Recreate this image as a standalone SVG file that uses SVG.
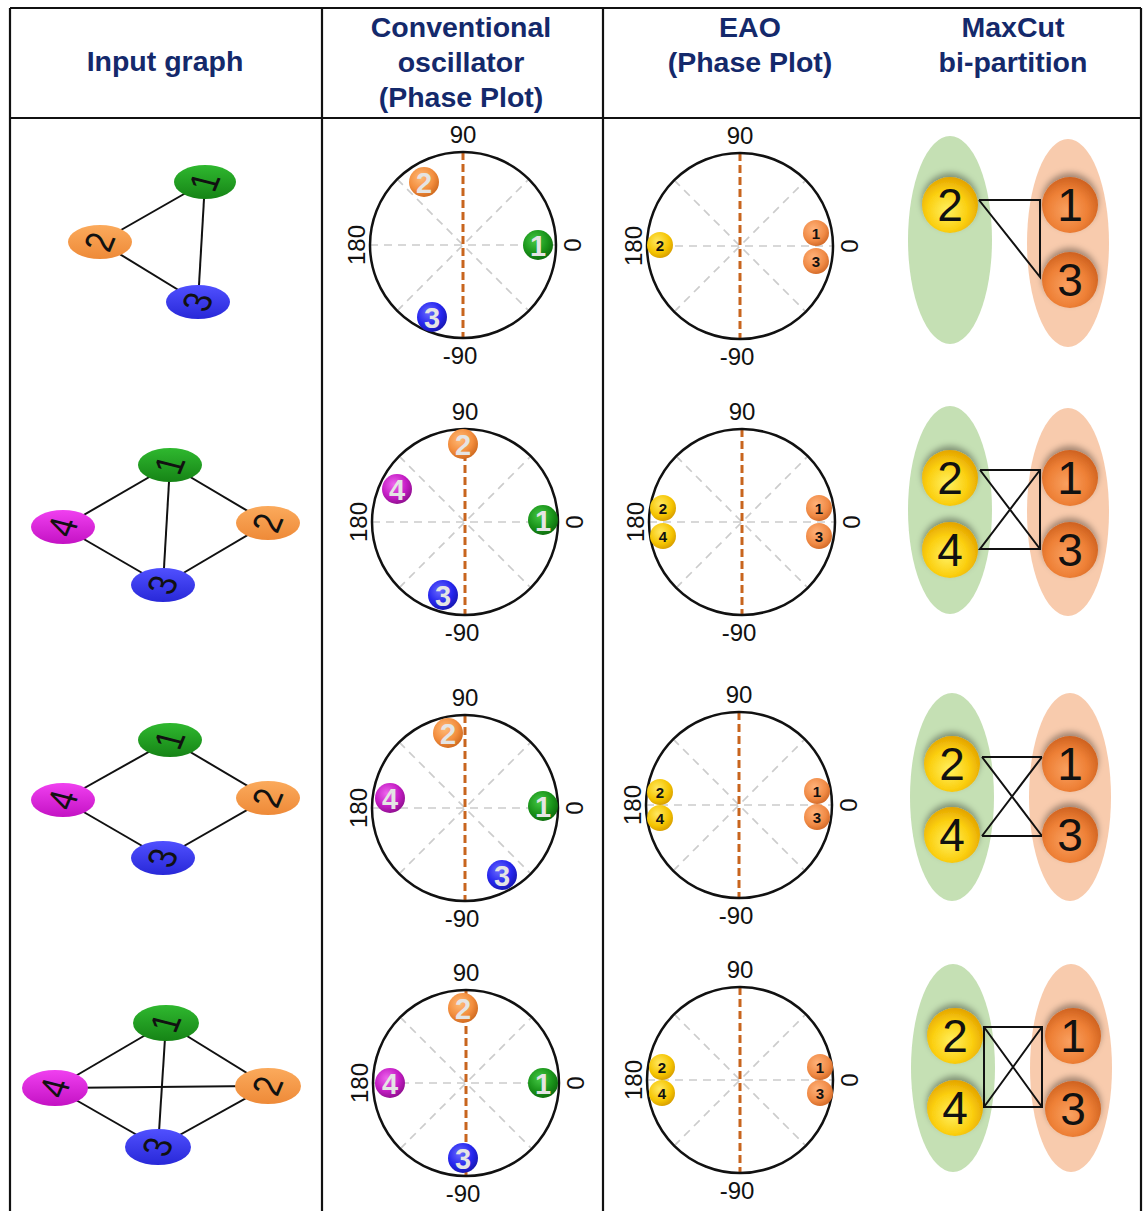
<svg xmlns="http://www.w3.org/2000/svg" xmlns:xlink="http://www.w3.org/1999/xlink" width="1144" height="1211" viewBox="0 0 1144 1211">
<style>
.hdr{font-family:"Liberation Sans",Arial,sans-serif;font-weight:bold;font-size:28.5px;fill:#14296b;text-anchor:middle}
.ax{font-family:"Liberation Sans",Arial,sans-serif;font-size:24px;fill:#111;text-anchor:middle}
.tbl{stroke:#111;stroke-width:2.2;fill:none}
.edge{stroke:#111;stroke-width:2;fill:none}
.cut{stroke:#111;stroke-width:2;fill:none}
.grid{stroke:#cccccc;stroke-width:1.7;stroke-dasharray:8 6;fill:none}
.vdash{stroke:#c8651e;stroke-width:3;stroke-dasharray:8 4;fill:none}
.ring{stroke:#111;stroke-width:2.5;fill:none}
.gd{font-family:"Liberation Sans",Arial,sans-serif;font-size:40px;fill:#111;text-anchor:middle;dominant-baseline:central}
.cd{font-family:"Liberation Sans",Arial,sans-serif;font-weight:bold;font-size:29px;fill:#e4e4e4;text-anchor:middle}
.ed{font-family:"Liberation Sans",Arial,sans-serif;font-weight:bold;font-size:15px;fill:#111;text-anchor:middle}
.md{font-family:"Liberation Sans",Arial,sans-serif;font-size:46px;fill:#111;text-anchor:middle}
</style>
<defs>
<linearGradient id="dG" x1="0" y1="0" x2="0" y2="1"><stop offset="0" stop-color="#2fb82f"/><stop offset="1" stop-color="#168416"/></linearGradient>
<linearGradient id="dO" x1="0" y1="0" x2="0" y2="1"><stop offset="0" stop-color="#fbaa5c"/><stop offset="1" stop-color="#ee8a38"/></linearGradient>
<linearGradient id="dB" x1="0" y1="0" x2="0" y2="1"><stop offset="0" stop-color="#5050ff"/><stop offset="1" stop-color="#2828d8"/></linearGradient>
<linearGradient id="dM" x1="0" y1="0" x2="0" y2="1"><stop offset="0" stop-color="#f040f0"/><stop offset="1" stop-color="#c412c4"/></linearGradient>
<radialGradient id="cG" cx="0.4" cy="0.35" r="0.7"><stop offset="0" stop-color="#45c845"/><stop offset="0.6" stop-color="#1a941a"/><stop offset="1" stop-color="#0c680c"/></radialGradient>
<radialGradient id="cO" cx="0.4" cy="0.35" r="0.7"><stop offset="0" stop-color="#ffba78"/><stop offset="0.6" stop-color="#f38e3e"/><stop offset="1" stop-color="#cc661c"/></radialGradient>
<radialGradient id="cB" cx="0.4" cy="0.35" r="0.7"><stop offset="0" stop-color="#6a6aff"/><stop offset="0.6" stop-color="#2626ee"/><stop offset="1" stop-color="#1616aa"/></radialGradient>
<radialGradient id="cM" cx="0.4" cy="0.35" r="0.7"><stop offset="0" stop-color="#ee66ee"/><stop offset="0.6" stop-color="#c41cc4"/><stop offset="1" stop-color="#8a0e8a"/></radialGradient>
<radialGradient id="eY" cx="0.4" cy="0.35" r="0.7"><stop offset="0" stop-color="#ffe860"/><stop offset="0.65" stop-color="#f5c400"/><stop offset="1" stop-color="#d49a00"/></radialGradient>
<radialGradient id="eO" cx="0.4" cy="0.35" r="0.7"><stop offset="0" stop-color="#ffb27a"/><stop offset="0.65" stop-color="#f08a45"/><stop offset="1" stop-color="#cf6624"/></radialGradient>
<radialGradient id="mY" cx="0.45" cy="0.6" r="0.6"><stop offset="0" stop-color="#fff060"/><stop offset="0.6" stop-color="#fbcf10"/><stop offset="1" stop-color="#e4a400"/></radialGradient>
<radialGradient id="mO" cx="0.45" cy="0.6" r="0.6"><stop offset="0" stop-color="#f9a060"/><stop offset="0.6" stop-color="#ee8036"/><stop offset="1" stop-color="#cf6220"/></radialGradient>
<filter id="sh" x="-30%" y="-40%" width="160%" height="170%"><feDropShadow dx="0" dy="-4" stdDeviation="3" flood-color="#000" flood-opacity="0.35"/></filter>
<g id="polar">
<line class="grid" x1="-93" y1="0" x2="93" y2="0"/>
<line class="grid" x1="-65.8" y1="-65.8" x2="65.8" y2="65.8"/>
<line class="grid" x1="-65.8" y1="65.8" x2="65.8" y2="-65.8"/>
<line class="vdash" x1="0" y1="-93" x2="0" y2="93"/>
<circle class="ring" cx="0" cy="0" r="93"/>
<text class="ax" x="0" y="-102">90</text>
<text class="ax" x="-3" y="119">-90</text>
<text class="ax" transform="translate(109,0) rotate(-90)" y="8.5">0</text>
<text class="ax" transform="translate(-107,0) rotate(-90)" y="8.5">180</text>
</g>
</defs>
<rect width="1144" height="1211" fill="#fff"/>

<g id="table">
<line class="tbl" x1="10" y1="8" x2="1141" y2="8"/>
<line class="tbl" x1="10" y1="118" x2="1141" y2="118"/>
<line class="tbl" x1="10" y1="8" x2="10" y2="1211"/>
<line class="tbl" x1="1141" y1="8" x2="1141" y2="1211"/>
<line class="tbl" x1="322" y1="8" x2="322" y2="1211"/>
<line class="tbl" x1="603" y1="8" x2="603" y2="1211"/>
</g>

<g id="header">
<text class="hdr" x="165" y="71">Input graph</text>
<text class="hdr" x="461" y="37">Conventional</text>
<text class="hdr" x="461" y="72">oscillator</text>
<text class="hdr" x="461" y="107">(Phase Plot)</text>
<text class="hdr" x="750" y="37">EAO</text>
<text class="hdr" x="750" y="72">(Phase Plot)</text>
<text class="hdr" x="1013" y="37">MaxCut</text>
<text class="hdr" x="1013" y="72">bi-partition</text>
</g>

<g id="connectors">
<line class="edge" x1="205" y1="182" x2="100" y2="242"/>
<line class="edge" x1="205" y1="182" x2="198" y2="302"/>
<line class="edge" x1="100" y1="242" x2="198" y2="302"/>
<line class="edge" x1="170" y1="465" x2="63" y2="527"/>
<line class="edge" x1="170" y1="465" x2="268" y2="523"/>
<line class="edge" x1="170" y1="465" x2="163" y2="585"/>
<line class="edge" x1="63" y1="527" x2="163" y2="585"/>
<line class="edge" x1="163" y1="585" x2="268" y2="523"/>
<line class="edge" x1="170" y1="740" x2="63" y2="800"/>
<line class="edge" x1="170" y1="740" x2="268" y2="798"/>
<line class="edge" x1="63" y1="800" x2="163" y2="858"/>
<line class="edge" x1="163" y1="858" x2="268" y2="798"/>
<line class="edge" x1="166" y1="1023" x2="55" y2="1088"/>
<line class="edge" x1="166" y1="1023" x2="268" y2="1086"/>
<line class="edge" x1="166" y1="1023" x2="158" y2="1147"/>
<line class="edge" x1="55" y1="1088" x2="268" y2="1086"/>
<line class="edge" x1="55" y1="1088" x2="158" y2="1147"/>
<line class="edge" x1="158" y1="1147" x2="268" y2="1086"/>
</g>

<g id="g1n1"><ellipse cx="205" cy="182" rx="31" ry="17" fill="url(#dG)"/><text class="gd" transform="translate(205,182) scale(1,0.78) rotate(-72)">1</text></g>
<g id="g1n2"><ellipse cx="100" cy="242" rx="32" ry="17" fill="url(#dO)"/><text class="gd" transform="translate(100,242) scale(1,0.78) rotate(-72)">2</text></g>
<g id="g1n3"><ellipse cx="198" cy="302" rx="32" ry="17" fill="url(#dB)"/><text class="gd" transform="translate(198,302) scale(1,0.78) rotate(-72)">3</text></g>

<g id="g2n1"><ellipse cx="170" cy="465" rx="32" ry="17" fill="url(#dG)"/><text class="gd" transform="translate(170,465) scale(1,0.78) rotate(-72)">1</text></g>
<g id="g2n4"><ellipse cx="63" cy="527" rx="32" ry="17" fill="url(#dM)"/><text class="gd" transform="translate(63,527) scale(1,0.78) rotate(-72)">4</text></g>
<g id="g2n2"><ellipse cx="268" cy="523" rx="32" ry="17" fill="url(#dO)"/><text class="gd" transform="translate(268,523) scale(1,0.78) rotate(-72)">2</text></g>
<g id="g2n3"><ellipse cx="163" cy="585" rx="32" ry="17" fill="url(#dB)"/><text class="gd" transform="translate(163,585) scale(1,0.78) rotate(-72)">3</text></g>

<g id="g3n1"><ellipse cx="170" cy="740" rx="32" ry="17" fill="url(#dG)"/><text class="gd" transform="translate(170,740) scale(1,0.78) rotate(-72)">1</text></g>
<g id="g3n4"><ellipse cx="63" cy="800" rx="32" ry="17" fill="url(#dM)"/><text class="gd" transform="translate(63,800) scale(1,0.78) rotate(-72)">4</text></g>
<g id="g3n2"><ellipse cx="268" cy="798" rx="32" ry="17" fill="url(#dO)"/><text class="gd" transform="translate(268,798) scale(1,0.78) rotate(-72)">2</text></g>
<g id="g3n3"><ellipse cx="163" cy="858" rx="32" ry="17" fill="url(#dB)"/><text class="gd" transform="translate(163,858) scale(1,0.78) rotate(-72)">3</text></g>

<g id="g4n1"><ellipse cx="166" cy="1023" rx="33" ry="18" fill="url(#dG)"/><text class="gd" transform="translate(166,1023) scale(1,0.78) rotate(-72)">1</text></g>
<g id="g4n4"><ellipse cx="55" cy="1088" rx="33" ry="18" fill="url(#dM)"/><text class="gd" transform="translate(55,1088) scale(1,0.78) rotate(-72)">4</text></g>
<g id="g4n2"><ellipse cx="268" cy="1086" rx="33" ry="18" fill="url(#dO)"/><text class="gd" transform="translate(268,1086) scale(1,0.78) rotate(-72)">2</text></g>
<g id="g4n3"><ellipse cx="158" cy="1147" rx="33" ry="18" fill="url(#dB)"/><text class="gd" transform="translate(158,1147) scale(1,0.78) rotate(-72)">3</text></g>

<g id="conv1">
<use xlink:href="#polar" href="#polar" transform="translate(463,245)"/>
<circle cx="538" cy="245" r="15" fill="url(#cG)"/><text class="cd" x="538" y="255.5">1</text>
<circle cx="424" cy="182" r="15" fill="url(#cO)"/><text class="cd" x="424" y="192.5">2</text>
<circle cx="432" cy="317" r="15" fill="url(#cB)"/><text class="cd" x="432" y="327.5">3</text>
</g>
<g id="conv2">
<use xlink:href="#polar" href="#polar" transform="translate(465,522)"/>
<circle cx="543" cy="520" r="15" fill="url(#cG)"/><text class="cd" x="543" y="530.5">1</text>
<circle cx="463" cy="444" r="15" fill="url(#cO)"/><text class="cd" x="463" y="454.5">2</text>
<circle cx="443" cy="595" r="15" fill="url(#cB)"/><text class="cd" x="443" y="605.5">3</text>
<circle cx="397" cy="489" r="15" fill="url(#cM)"/><text class="cd" x="397" y="499.5">4</text>
</g>
<g id="conv3">
<use xlink:href="#polar" href="#polar" transform="translate(465,808)"/>
<circle cx="543" cy="806" r="15" fill="url(#cG)"/><text class="cd" x="543" y="816.5">1</text>
<circle cx="448" cy="733" r="15" fill="url(#cO)"/><text class="cd" x="448" y="743.5">2</text>
<circle cx="502" cy="875" r="15" fill="url(#cB)"/><text class="cd" x="502" y="885.5">3</text>
<circle cx="390" cy="798" r="15" fill="url(#cM)"/><text class="cd" x="390" y="808.5">4</text>
</g>
<g id="conv4">
<use xlink:href="#polar" href="#polar" transform="translate(466,1083)"/>
<circle cx="543" cy="1083" r="15" fill="url(#cG)"/><text class="cd" x="543" y="1093.5">1</text>
<circle cx="463" cy="1008" r="15" fill="url(#cO)"/><text class="cd" x="463" y="1018.5">2</text>
<circle cx="463" cy="1158" r="15" fill="url(#cB)"/><text class="cd" x="463" y="1168.5">3</text>
<circle cx="390" cy="1083" r="15" fill="url(#cM)"/><text class="cd" x="390" y="1093.5">4</text>
</g>

<g id="eao1">
<use xlink:href="#polar" href="#polar" transform="translate(740,246)"/>
<circle cx="660" cy="245" r="13" fill="url(#eY)"/><text class="ed" x="660" y="250.5">2</text>
<circle cx="816" cy="233" r="13" fill="url(#eO)"/><text class="ed" x="816" y="238.5">1</text>
<circle cx="816" cy="261" r="13" fill="url(#eO)"/><text class="ed" x="816" y="266.5">3</text>
</g>
<g id="eao2">
<use xlink:href="#polar" href="#polar" transform="translate(742,522)"/>
<circle cx="663" cy="508" r="13" fill="url(#eY)"/><text class="ed" x="663" y="513.5">2</text>
<circle cx="663" cy="536" r="13" fill="url(#eY)"/><text class="ed" x="663" y="541.5">4</text>
<circle cx="819" cy="508" r="13" fill="url(#eO)"/><text class="ed" x="819" y="513.5">1</text>
<circle cx="819" cy="536" r="13" fill="url(#eO)"/><text class="ed" x="819" y="541.5">3</text>
</g>
<g id="eao3">
<use xlink:href="#polar" href="#polar" transform="translate(739,805)"/>
<circle cx="660" cy="792" r="13" fill="url(#eY)"/><text class="ed" x="660" y="797.5">2</text>
<circle cx="660" cy="818" r="13" fill="url(#eY)"/><text class="ed" x="660" y="823.5">4</text>
<circle cx="817" cy="791" r="13" fill="url(#eO)"/><text class="ed" x="817" y="796.5">1</text>
<circle cx="817" cy="817" r="13" fill="url(#eO)"/><text class="ed" x="817" y="822.5">3</text>
</g>
<g id="eao4">
<use xlink:href="#polar" href="#polar" transform="translate(740,1080)"/>
<circle cx="662" cy="1067" r="13" fill="url(#eY)"/><text class="ed" x="662" y="1072.5">2</text>
<circle cx="662" cy="1093" r="13" fill="url(#eY)"/><text class="ed" x="662" y="1098.5">4</text>
<circle cx="820" cy="1067" r="13" fill="url(#eO)"/><text class="ed" x="820" y="1072.5">1</text>
<circle cx="820" cy="1093" r="13" fill="url(#eO)"/><text class="ed" x="820" y="1098.5">3</text>
</g>

<g id="cut1">
<ellipse cx="950" cy="240" rx="42" ry="104" fill="#c5e0b4"/>
<ellipse cx="1068" cy="243" rx="41" ry="104" fill="#f8cbad"/>
<path class="cut" d="M979,200 H1040 V277 L979,200"/>
<g filter="url(#sh)"><circle cx="950" cy="205" r="28" fill="url(#mY)"/><circle cx="1070" cy="205" r="28" fill="url(#mO)"/><circle cx="1070" cy="280" r="28" fill="url(#mO)"/></g>
<text class="md" x="950" y="221">2</text><text class="md" x="1070" y="221">1</text><text class="md" x="1070" y="296">3</text>
</g>
<g id="cut2">
<ellipse cx="950" cy="510" rx="42" ry="104" fill="#c5e0b4"/>
<ellipse cx="1068" cy="512" rx="41" ry="104" fill="#f8cbad"/>
<path class="cut" d="M980,470 H1040 V549 H980 L1040,470 M980,470 L1040,549"/>
<g filter="url(#sh)"><circle cx="950" cy="478" r="28" fill="url(#mY)"/><circle cx="950" cy="550" r="28" fill="url(#mY)"/><circle cx="1070" cy="478" r="28" fill="url(#mO)"/><circle cx="1070" cy="550" r="28" fill="url(#mO)"/></g>
<text class="md" x="950" y="494">2</text><text class="md" x="950" y="566">4</text><text class="md" x="1070" y="494">1</text><text class="md" x="1070" y="566">3</text>
</g>
<g id="cut3">
<ellipse cx="952" cy="797" rx="42" ry="104" fill="#c5e0b4"/>
<ellipse cx="1070" cy="797" rx="41" ry="104" fill="#f8cbad"/>
<path class="cut" d="M982,757 H1042 M982,836 H1042 M982,757 L1042,836 M982,836 L1042,757"/>
<g filter="url(#sh)"><circle cx="952" cy="764" r="28" fill="url(#mY)"/><circle cx="952" cy="835" r="28" fill="url(#mY)"/><circle cx="1070" cy="764" r="28" fill="url(#mO)"/><circle cx="1070" cy="835" r="28" fill="url(#mO)"/></g>
<text class="md" x="952" y="780">2</text><text class="md" x="952" y="851">4</text><text class="md" x="1070" y="780">1</text><text class="md" x="1070" y="851">3</text>
</g>
<g id="cut4">
<ellipse cx="953" cy="1068" rx="42" ry="104" fill="#c5e0b4"/>
<ellipse cx="1071" cy="1068" rx="41" ry="104" fill="#f8cbad"/>
<path class="cut" d="M984,1027 H1042 V1107 H984 Z M984,1027 L1042,1107 M984,1107 L1042,1027"/>
<g filter="url(#sh)"><circle cx="955" cy="1036" r="28" fill="url(#mY)"/><circle cx="955" cy="1108" r="28" fill="url(#mY)"/><circle cx="1073" cy="1036" r="28" fill="url(#mO)"/><circle cx="1073" cy="1109" r="28" fill="url(#mO)"/></g>
<text class="md" x="955" y="1052">2</text><text class="md" x="955" y="1124">4</text><text class="md" x="1073" y="1052">1</text><text class="md" x="1073" y="1125">3</text>
</g>
</svg>
